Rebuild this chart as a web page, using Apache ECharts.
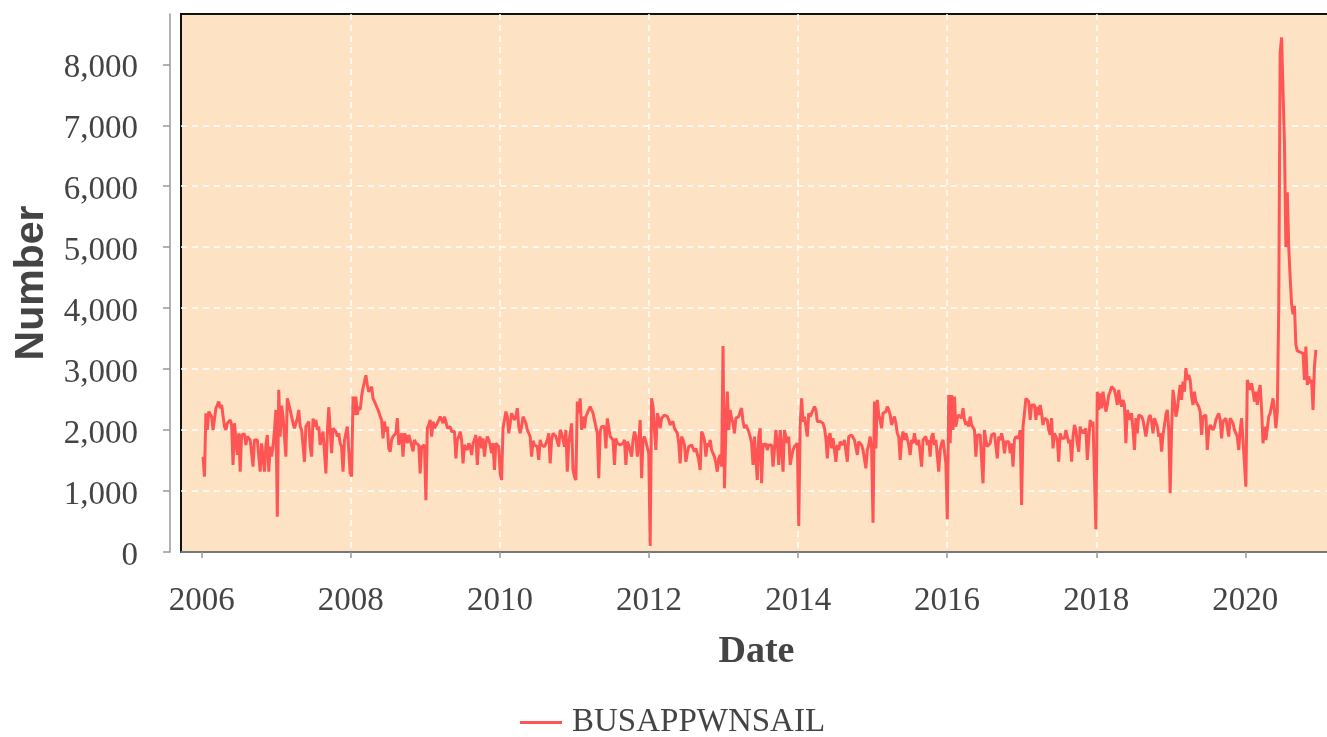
<!DOCTYPE html>
<html>
<head>
<meta charset="utf-8">
<script src="https://cdn.jsdelivr.net/npm/echarts@6/dist/echarts.min.js"></script>
<style>
  html, body { margin: 0; padding: 0; background: #fff; }
  #chart { width: 1327px; height: 737px; }
</style>
</head>
<body>
<div id="chart"></div>
<script>
// weekly business applications, one array per calendar year (week ending Saturday)
const seriesName = 'BUSAPPWNSAIL'
const firstWeek = Date.UTC(2006, 0, 7)

const v2006 = [1565, 1236, 2276, 2002, 2303, 2287, 2221, 2002, 1975, 2358, 2358, 2467, 2358, 2412, 2396, 2057, 2002, 2112, 2112, 2166, 2084, 1428, 2112, 2084, 1592, 1947, 1318, 1920, 1893, 1937, 1756, 1893, 1865, 1838, 1865, 1400, 1838, 1865, 1838, 1838, 1318, 1783, 1783, 1318, 1756, 1920, 1318, 1729, 1565, 1729, 2002, 2330]
const v2007 = [580, 2660, 1890, 2400, 2220, 1890, 1565, 2520, 2490, 2330, 2220, 2112, 2030, 2112, 2190, 2330, 2057, 2002, 1975, 1480, 2057, 2030, 2140, 1730, 1565, 2190, 2057, 2166, 2002, 2057, 1756, 1893, 1975, 2002, 1290, 1947, 2375, 2002, 1620, 2030, 2002, 1975, 1893, 1947, 1783, 1729, 1318, 1838, 1865, 2057, 2085, 1290]
const v2008 = [1240, 2550, 2250, 2550, 2250, 2385, 2330, 2550, 2690, 2690, 2900, 2740, 2630, 2660, 2710, 2520, 2470, 2412, 2358, 2303, 2221, 2166, 1865, 2140, 1975, 2057, 1700, 1645, 1838, 1893, 1920, 1947, 2195, 1756, 1756, 1947, 1565, 1947, 1893, 1783, 1920, 1838, 1810, 1650, 1838, 1783, 1783, 1756, 1290, 1729, 1756, 1756]
const v2009 = [850, 2030, 2085, 2166, 1893, 2140, 2030, 2057, 2112, 2166, 2221, 2166, 2112, 2221, 2140, 2030, 2057, 2057, 1975, 1947, 1975, 1537, 1838, 1893, 1975, 1838, 1455, 1756, 1783, 1673, 1783, 1729, 1592, 1783, 1838, 1920, 1428, 1838, 1893, 1700, 1865, 1565, 1783, 1893, 1838, 1756, 1620, 1783, 1345, 1783, 1810, 1729]
const v2010 = [1290, 1180, 2030, 2002, 2303, 2221, 1947, 1920, 2276, 2303, 2166, 2221, 2360, 2057, 1947, 2057, 2221, 2166, 2112, 2002, 2030, 1893, 1565, 1823, 1756, 1783, 1729, 1510, 1838, 1756, 1756, 1729, 1783, 1838, 1947, 1455, 1838, 1947, 1947, 1893, 1920, 1729, 2002, 1947, 1838, 1729, 2002, 1318, 1783, 1810, 2110, 1345]
const v2011 = [1236, 1180, 2467, 2276, 2520, 2002, 2221, 2030, 2221, 2221, 2330, 2385, 2330, 2276, 2166, 2057, 1947, 1210, 1975, 2057, 2085, 2057, 1700, 2192, 2221, 1893, 1893, 1838, 1428, 1865, 1783, 1810, 1756, 1756, 1783, 1838, 1428, 1810, 1756, 1783, 1565, 1838, 1975, 1893, 1565, 1783, 2166, 1210, 1838, 1893, 1810, 1783, 1619]
const v2012 = [100, 2520, 2385, 2002, 1673, 2276, 2195, 2030, 2195, 2221, 2248, 2276, 2221, 2166, 2085, 2112, 2140, 2030, 2002, 1947, 1783, 1455, 1893, 1838, 1756, 1480, 1620, 1729, 1700, 1756, 1783, 1645, 1700, 1729, 1510, 1345, 1975, 1920, 1838, 1565, 1783, 1729, 1838, 1673, 1673, 1565, 1455, 1318, 1537, 1592, 1400, 3380]
const v2013 = [1045, 2002, 2630, 2002, 2330, 2195, 2112, 1947, 2195, 2166, 2221, 2303, 2360, 2140, 2030, 2085, 2030, 1975, 1893, 1783, 1428, 1893, 1920, 1180, 1893, 2030, 1127, 1783, 1729, 1783, 1673, 1756, 1729, 1756, 1400, 1673, 2002, 1783, 1428, 2002, 1729, 1318, 2002, 1975, 1783, 1893, 1428, 1565, 1673, 1729, 1756, 1783]
const v2014 = [427, 2085, 2520, 2140, 2221, 2195, 1893, 2276, 2221, 2276, 2303, 2385, 2330, 2140, 2112, 2140, 2166, 2112, 2030, 1865, 1537, 1893, 1947, 1700, 1865, 1893, 1480, 1756, 1673, 1810, 1783, 1756, 1838, 1865, 1480, 1893, 1920, 1920, 1893, 1838, 1810, 1592, 1810, 1810, 1756, 1673, 1645, 1373, 1673, 1756, 1893, 1700]
const v2015 = [480, 2467, 1700, 2495, 2248, 2166, 2030, 2276, 2248, 2303, 2385, 2330, 2248, 2085, 2112, 2221, 2112, 1947, 1893, 1510, 1838, 1975, 1838, 1947, 1920, 1756, 1592, 1838, 1783, 1947, 1810, 1756, 1838, 1838, 1400, 1838, 1865, 1893, 1756, 1838, 1565, 1893, 1947, 1756, 1838, 1838, 1318, 1673, 1783, 1838, 1865, 1455]
const v2016 = [536, 2576, 1783, 2576, 2002, 2550, 2057, 2195, 2248, 2248, 2195, 2360, 2166, 2085, 2140, 2057, 2221, 2085, 2057, 2002, 1565, 1920, 1893, 1920, 1947, 1127, 2002, 1838, 1729, 1756, 1783, 1920, 1947, 1947, 1920, 1537, 1893, 1838, 1947, 1838, 1619, 1810, 1838, 1810, 1619, 1783, 1400, 1838, 1893, 1893, 1865, 2002, 770]
const v2017 = [2057, 2276, 2520, 2495, 2467, 2166, 2412, 2440, 2412, 2166, 2385, 2248, 2412, 2276, 2084, 2195, 2221, 2166, 2002, 1920, 2195, 1700, 1947, 1893, 1838, 1480, 1947, 1865, 1838, 1865, 2002, 1893, 1783, 1838, 1480, 1893, 2084, 2002, 1783, 1645, 2057, 1947, 2002, 1947, 2030, 1510, 1838, 2166, 2057, 2140, 2112, 372]
const v2018 = [2630, 2330, 2600, 2358, 2630, 2467, 2303, 2412, 2576, 2630, 2713, 2685, 2660, 2550, 2412, 2660, 2467, 2385, 2495, 2412, 1783, 2330, 2248, 2166, 2276, 2002, 1673, 2195, 1947, 2248, 2276, 2221, 2166, 2140, 1893, 2057, 2195, 2248, 2140, 1947, 2195, 2221, 2057, 1893, 1947, 1645, 1920, 1893, 2248, 2330, 2002, 963]
const v2019 = [2002, 2660, 2467, 2221, 2330, 2550, 2740, 2495, 2795, 2630, 3015, 2823, 2905, 2823, 2550, 2412, 2630, 2467, 2440, 2385, 2303, 1920, 2221, 2195, 2248, 1673, 2002, 2084, 2112, 2002, 2057, 2166, 2221, 2276, 2166, 1865, 2140, 2166, 2195, 2221, 1893, 2195, 2166, 2112, 2002, 2030, 1893, 1673, 2002, 2195, 2166, 1455]
const v2020 = [1072, 2823, 2740, 2660, 2768, 2630, 2467, 2630, 2412, 2630, 2740, 2330, 1783, 2057, 1838, 1865, 2221, 2276, 2303, 2520, 2330, 2030, 2300, 4000, 8190, 8440, 8420, 6700, 5000, 5900, 5000, 4500, 4070, 3900, 4040, 3400, 3300, 3300, 3280, 3300, 3260, 2823, 3370, 2740, 2880, 2770, 2823, 2330, 3040, 3315]

const yTicks = [0, 1000, 2000, 3000, 4000, 5000, 6000, 7000, 8000]
const xTickYears = [2006, 2008, 2010, 2012, 2014, 2016, 2018, 2020]

const yearly = [v2006, v2007, v2008, v2009, v2010, v2011, v2012, v2013, v2014, v2015, v2016, v2017, v2018, v2019, v2020]
const values = [].concat(...yearly)
const WEEK = 7 * 24 * 3600 * 1000
// x is a UTC timestamp on a plain value axis so the year ticks can be placed exactly
const data = values.map((v, i) => [firstWeek + i * WEEK, v])
const xTicks = xTickYears.map(y => Date.UTC(y, 0, 1))

const serif = '"Liberation Serif", "Times New Roman", serif'
const gray = '#444'

const myChart = echarts.init(document.getElementById('chart'))
myChart.setOption({
  animation: false,
  grid: {
    left: 181,
    top: 14,
    width: 1151,
    bottom: 185,
    outerBoundsMode: 'none',
    show: true,
    backgroundColor: '#fde3c4',
    borderColor: '#111',
    borderWidth: 2
  },
  legend: {
    left: 520,
    top: 706,
    padding: 0,
    icon: 'rect',
    itemWidth: 42,
    itemHeight: 3,
    textStyle: { fontFamily: serif, fontSize: 33, color: gray, padding: [0, 0, 0, 5] },
    data: [seriesName]
  },
  xAxis: {
    type: 'value',
    min: Date.UTC(2005, 8, 21),
    max: Date.UTC(2021, 2, 1),
    offset: 11,
    name: 'Date',
    nameLocation: 'middle',
    nameGap: 70,
    nameTextStyle: { fontFamily: serif, fontWeight: 'bold', fontSize: 38, color: gray },
    axisLine: { show: true, lineStyle: { color: '#999', width: 1.5 } },
    axisTick: { show: true, length: 6, customValues: xTicks, lineStyle: { color: '#999', width: 1.5 } },
    axisLabel: {
      customValues: xTicks,
      margin: 22,
      fontFamily: serif,
      fontSize: 33,
      color: gray,
      formatter: function (v) {
        return String(new Date(v).getUTCFullYear())
      }
    },
    splitLine: { show: true, showMinLine: false, showMaxLine: false, lineStyle: { color: '#fff', type: [6, 5], width: 1.5 } }
  },
  yAxis: {
    type: 'value',
    min: 0,
    max: 8825,
    interval: 1000,
    offset: 11,
    name: 'Number',
    nameLocation: 'middle',
    nameGap: 118,
    nameTextStyle: { fontFamily: '"Liberation Sans", Arial, sans-serif', fontWeight: 'bold', fontSize: 41, color: gray },
    axisLine: { show: true, lineStyle: { color: '#999', width: 1.5 } },
    axisTick: { show: true, length: 7, customValues: yTicks, lineStyle: { color: '#999', width: 1.5 } },
    axisLabel: {
      customValues: yTicks,
      margin: 32,
      fontFamily: serif,
      fontSize: 33,
      color: gray,
      verticalAlign: 'top',
      lineHeight: 9,
      formatter: function (v) {
        return Number(v).toLocaleString('en-US')
      }
    },
    splitLine: { show: true, showMinLine: false, showMaxLine: false, lineStyle: { color: '#fff', type: [6, 5], width: 1.5 } }
  },
  series: [
    {
      name: seriesName,
      type: 'line',
      data: data,
      symbol: 'none',
      showSymbol: false,
      lineStyle: { color: '#ff5555', width: 3 },
      itemStyle: { color: '#ff5555' }
    }
  ]
})
</script>
</body>
</html>
